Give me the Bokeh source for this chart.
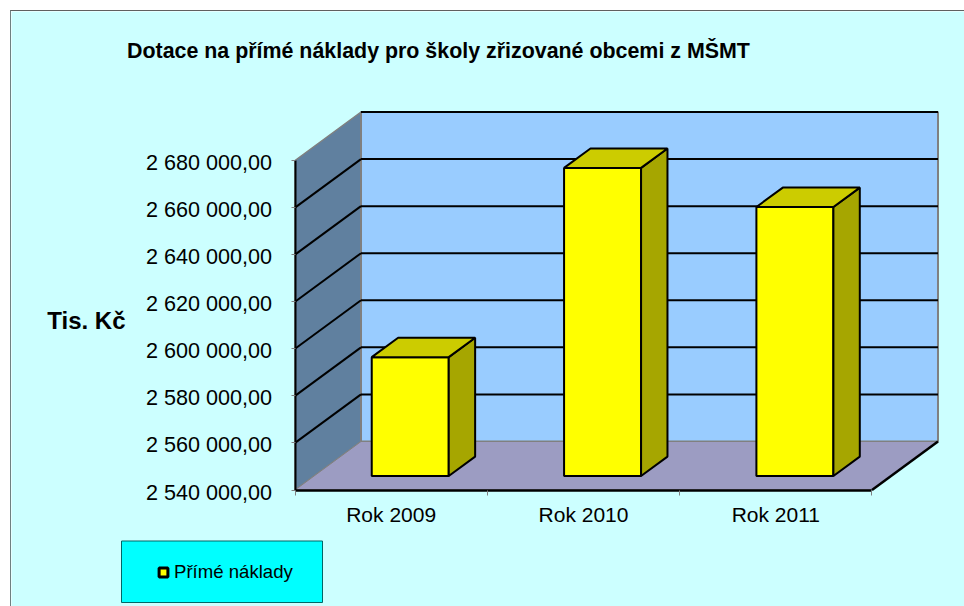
from bokeh.plotting import figure
from bokeh.models import Range1d, LinearAxis, FixedTicker, Legend, LegendItem
from bokeh.core.properties import value
from bokeh.embed import file_html
from bokeh.resources import INLINE

# Data
categories = ["Rok 2009", "Rok 2010", "Rok 2011"]
series_name = "Přímé náklady"
values = [2590500, 2670900, 2654300]
y_ticks = [2540000, 2560000, 2580000, 2600000, 2620000, 2640000, 2660000, 2680000]
y_tick_labels = ["2 540 000,00", "2 560 000,00", "2 580 000,00", "2 600 000,00",
                 "2 620 000,00", "2 640 000,00", "2 660 000,00", "2 680 000,00"]
title_text = "Dotace na přímé náklady pro školy zřizované obcemi z MŠMT"
y_label = "Tis. Kč"

# Layout (pixels)
W, H = 954, 596
ORIGIN_X, ORIGIN_BELOW = 283.5, 117.5     # axis crossing inside the figure
CAT_PX = 192.33
VAL_PX = 47.07 / 20000
DX_PX, DY_PX = 66, 48.5
LABEL_DROP_PX = 2
base = y_ticks[0]
top = y_ticks[-1]
n = len(categories)
dx = DX_PX / CAT_PX
dy = DY_PX / VAL_PX
x0 = -ORIGIN_X / CAT_PX
y0 = base - ORIGIN_BELOW / VAL_PX

p = figure(width=W, height=H, output_backend="svg", toolbar_location=None,
           x_range=Range1d(x0, x0 + W / CAT_PX),
           y_range=Range1d(y0, y0 + H / VAL_PX),
           min_border=0, x_axis_type=None, y_axis_type=None,
           background_fill_color="#CCFFFF", border_fill_color="#CCFFFF",
           outline_line_color=None, margin=(10, 0, 0, 10),
           styles={"border-left": "1px solid #6f8080", "border-top": "1px solid #5f6060",
                   "box-sizing": "border-box"})
p.grid.visible = False
p.extra_y_ranges = {"labels": Range1d(y0 + LABEL_DROP_PX / VAL_PX,
                                      y0 + (H + LABEL_DROP_PX) / VAL_PX)}

WALL_GRAY = "#808080"
# side wall
p.patch([0, dx, dx, 0], [base, base + dy, top + dy, top],
        fill_color="#60809F", line_color=WALL_GRAY, line_width=1.5)
# back wall
p.patch([dx, n + dx, n + dx, dx], [base + dy, base + dy, top + dy, top + dy],
        fill_color="#99CCFF", line_color=WALL_GRAY, line_width=2)
# floor
p.patch([0, n, n + dx, dx], [base, base, base + dy, base + dy],
        fill_color="#9C9CC2", line_color=WALL_GRAY, line_width=1)
p.line([n, n + dx], [base, base + dy], line_color="black", line_width=2.5)

# grid lines
p.multi_line([[dx, n + dx] for t in y_ticks[1:]],
             [[t + dy, t + dy] for t in y_ticks[1:]], line_color="black", line_width=2)
p.multi_line([[0, dx] for t in y_ticks[1:-1]],
             [[t, t + dy] for t in y_ticks[1:-1]], line_color="black", line_width=2)

# bars
BAR_W = 77 / CAT_PX
F0, F1 = 0.289, 0.689
left = [i + 0.5 - BAR_W / 2 + dx * F0 for i in range(n)]
right = [l + BAR_W for l in left]
b = base + dy * F0
p.quad(left=left, right=right, bottom=b, top=[v + dy * F0 for v in values],
       fill_color="#FFFF00", line_color="black", line_width=2)
sd = dx * (F1 - F0)
sh = dy * (F1 - F0)
p.patches([[r, r + sd, r + sd, r] for r in right],
          [[b, b + sh, v + dy * F0 + sh, v + dy * F0] for v in values],
          fill_color="#A6A600", line_color="black", line_width=2)
p.patches([[l, l + sd, r + sd, r] for l, r in zip(left, right)],
          [[v + dy * F0, v + dy * F0 + sh, v + dy * F0 + sh, v + dy * F0] for v in values],
          fill_color="#CCCC00", line_color="black", line_width=2)

# y axis: line and tick marks
ya = LinearAxis(ticker=FixedTicker(ticks=y_ticks), fixed_location=0, bounds=(base, top),
                major_label_text_font_size="0px", major_label_text_color=None,
                axis_line_color="black", axis_line_width=2,
                major_tick_line_color=WALL_GRAY, major_tick_in=0, major_tick_out=4,
                minor_tick_line_color=None)
p.add_layout(ya, "left")
# y axis: tick labels
yl = LinearAxis(ticker=FixedTicker(ticks=y_ticks), fixed_location=0, y_range_name="labels",
                major_label_overrides=dict(zip(y_ticks, y_tick_labels)),
                major_label_text_font="Liberation Sans", major_label_text_font_size="21.6px",
                major_label_text_color="black", major_label_standoff=17,
                axis_line_color=None, major_tick_line_color=None, minor_tick_line_color=None)
p.add_layout(yl, "left")

# x axis: tick marks at category boundaries
xa = LinearAxis(ticker=FixedTicker(ticks=list(range(n + 1))), bounds=(0, n), fixed_location=base,
                major_label_text_font_size="0px", major_label_text_color=None,
                axis_line_color="black", axis_line_width=2.5,
                major_tick_line_color=WALL_GRAY, major_tick_in=0, major_tick_out=5,
                minor_tick_line_color=None)
p.add_layout(xa, "below")
# category labels at centres
xl = LinearAxis(ticker=FixedTicker(ticks=[i + 0.5 for i in range(n)]), fixed_location=base,
                major_label_overrides={i + 0.5: c for i, c in enumerate(categories)},
                major_label_text_font="Liberation Sans", major_label_text_font_size="21px",
                major_label_text_color="black", major_label_standoff=7,
                axis_line_color=None, major_tick_line_color=None, minor_tick_line_color=None)
p.add_layout(xl, "below")

# title and value-axis title
p.text(x=[x0 + 115.5 / CAT_PX], y=[y0 + (H - 39) / VAL_PX], text=[title_text],
       text_font=value("Liberation Sans"), text_font_size="21.4px", text_font_style="bold",
       text_color="black", text_align="left", text_baseline="middle")
p.text(x=[x0 + 114 / CAT_PX], y=[y0 + (H - 309) / VAL_PX], text=[y_label],
       text_font=value("Liberation Sans"), text_font_size="24px", text_font_style="bold",
       text_color="black", text_align="right", text_baseline="middle")

# legend box with its key and label
p.quad(left=[x0 + 110 / CAT_PX], right=[x0 + 311 / CAT_PX],
       bottom=[y0 + 5 / VAL_PX], top=[y0 + 66.5 / VAL_PX],
       fill_color="#00FFFF", line_color="#006666", line_width=1)
key = p.scatter(x=[x0 - 1], y=[y0 - 1e6], marker="square", size=10, fill_color="#FFFF00",
                line_color="black", line_width=3)
legend = Legend(items=[LegendItem(label=series_name, renderers=[key])],
                location=(111, -6), background_fill_alpha=0,
                border_line_color="#006666", border_line_alpha=0,
                label_text_font="Liberation Sans", label_text_font_size="18.6px",
                label_text_color="black", glyph_width=22, glyph_height=22,
                label_height=22, padding=30, margin=0, label_standoff=0)
p.add_layout(legend, "center")

open("out.html", "w").write(file_html(p, INLINE))
